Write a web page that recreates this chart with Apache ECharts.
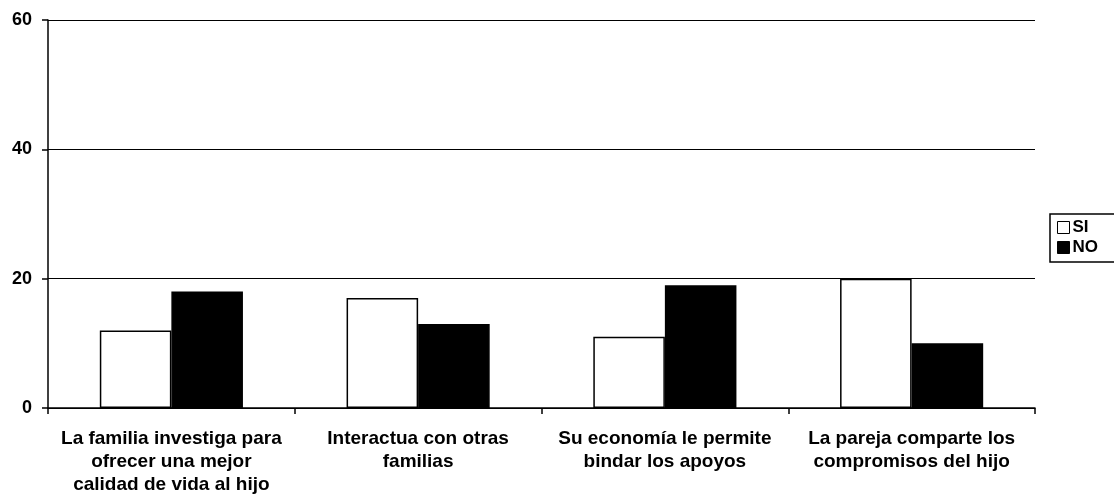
<!DOCTYPE html>
<html>
<head>
<meta charset="utf-8">
<script src="https://cdn.jsdelivr.net/npm/echarts@6/dist/echarts.min.js"></script>
<style>html,body{margin:0;padding:0;background:#fff;}#c{width:1114px;height:504px;}</style>
</head>
<body>
<div id="c"></div>
<script>
var categories = [
  "La familia investiga para\nofrecer una mejor\ncalidad de vida al hijo",
  "Interactua con otras\nfamilias",
  "Su economía le permite\nbindar los apoyos",
  "La pareja comparte los\ncompromisos del hijo"
];
var siValues = [12, 17, 11, 20];
var noValues = [18, 13, 19, 10];
var seriesNames = ["SI", "NO"];

var chart = echarts.init(document.getElementById('c'), null, {renderer: 'canvas'});
var font = "'Liberation Sans', Arial, sans-serif";
chart.setOption({
  animation: false,
  backgroundColor: '#fff',
  grid: {left: 48, right: 79, top: 20, bottom: 96},
  legend: {
    orient: 'vertical',
    left: 1050, top: 214,
    itemWidth: 12, itemHeight: 12, itemGap: 3,
    padding: [5, 30, 6, 7],
    borderColor: '#000', borderWidth: 1.5, borderRadius: 0,
    icon: 'rect',
    itemStyle: {borderWidth: 1},
    textStyle: {fontFamily: font, fontWeight: 'bold', fontSize: 17, color: '#000', padding: [0,0,0,-2]},
    data: seriesNames
  },
  xAxis: {
    type: 'category',
    data: categories,
    axisLine: {lineStyle: {color: '#000', width: 1.5}},
    axisTick: {show: true, length: 6, lineStyle: {color: '#000', width: 1.5}},
    axisLabel: {fontFamily: font, fontWeight: 'bold', fontSize: 19, color: '#000', lineHeight: 23, margin: 19, interval: 0}
  },
  yAxis: {
    type: 'value', min: 0, max: 60, interval: 20,
    axisLine: {show: true, lineStyle: {color: '#000', width: 1.5}},
    axisTick: {show: true, length: 6, lineStyle: {color: '#000', width: 1.5}},
    splitLine: {show: true, lineStyle: {color: '#000', width: 1.2}},
    axisLabel: {fontFamily: font, fontWeight: 'bold', fontSize: 18, color: '#000', margin: 16}
  },
  series: [
    {name: seriesNames[0], type: 'bar', data: siValues, barGap: '0%', barCategoryGap: '42%',
     itemStyle: {color: '#fff', borderColor: '#000', borderWidth: 1.5}},
    {name: seriesNames[1], type: 'bar', data: noValues, barGap: '0%', barCategoryGap: '42%',
     itemStyle: {color: '#000', borderColor: '#000', borderWidth: 1.5}}
  ]
});
</script>
</body>
</html>
